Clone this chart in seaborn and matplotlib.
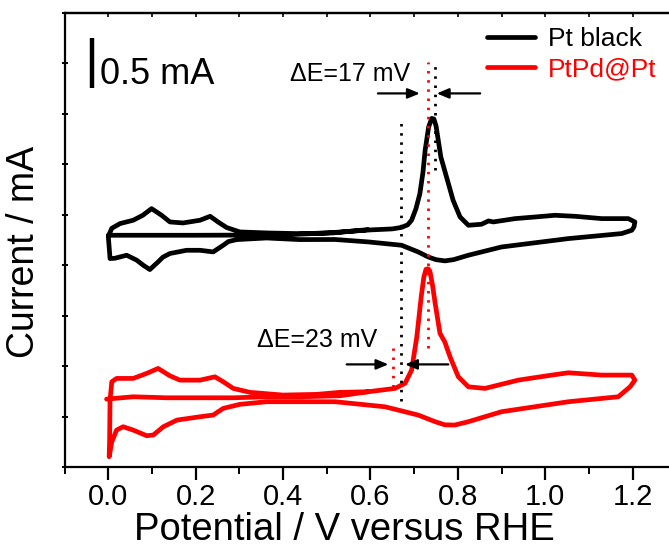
import numpy as np
import pandas as pd
import matplotlib
matplotlib.use("Agg")
import matplotlib.pyplot as plt
import seaborn as sns

# ---------------- data (potential V vs RHE, current offset in mA) ----------------
pt_black_x = [0.0, 0.2, 0.4, 0.5, 0.6, 0.65, 0.671, 0.685, 0.694, 0.704, 0.713, 0.720,
              0.725, 0.733, 0.740, 0.745, 0.750, 0.755, 0.761, 0.774, 0.789, 0.805, 0.824,
              0.854, 0.870, 0.881, 0.931, 0.976, 1.022, 1.068, 1.129, 1.19, 1.205,
              1.203, 1.198, 1.175, 1.053, 0.90, 0.824, 0.790, 0.770, 0.750, 0.732, 0.709,
              0.671, 0.595, 0.519, 0.438, 0.362, 0.294, 0.275, 0.263, 0.24, 0.21, 0.179,
              0.141, 0.125, 0.114, 0.095, 0.080, 0.065, 0.042, 0.015, 0.004, 0.0,
              0.008, 0.027, 0.057, 0.079, 0.099, 0.122, 0.141, 0.171, 0.21, 0.233, 0.251,
              0.271, 0.301, 0.362, 0.438, 0.514, 0.594]
pt_black_y = [2.297, 2.297, 2.30, 2.32, 2.35, 2.36, 2.375, 2.40, 2.446, 2.56, 2.71, 2.92,
              3.139, 3.37, 3.455, 3.45, 3.38, 3.24, 3.072, 2.874, 2.644, 2.478, 2.396,
              2.406, 2.439, 2.429, 2.462, 2.478, 2.495, 2.485, 2.462, 2.462, 2.429,
              2.38, 2.347, 2.314, 2.264, 2.181, 2.099, 2.055, 2.043, 2.055, 2.082, 2.132,
              2.198, 2.231, 2.255, 2.254, 2.27, 2.254, 2.235, 2.198, 2.132, 2.148, 2.148,
              2.116, 2.08, 2.033, 1.957, 2.0, 2.05, 2.099, 2.069, 2.066, 2.287,
              2.366, 2.413, 2.446, 2.495, 2.561, 2.495, 2.429, 2.419, 2.446, 2.485, 2.429,
              2.373, 2.33, 2.32, 2.313, 2.32, 2.353]

ptpd_x = [-0.004, 0.057, 0.134, 0.286, 0.362, 0.439, 0.53, 0.595, 0.656, 0.679, 0.694,
          0.706, 0.716, 0.722, 0.727, 0.732, 0.736, 0.742, 0.748, 0.759, 0.770, 0.782,
          0.801, 0.824, 0.862, 0.938, 1.015, 1.053, 1.129, 1.198, 1.205,
          1.194, 1.167, 1.053, 0.90, 0.824, 0.793, 0.770, 0.748, 0.709, 0.633, 0.519,
          0.439, 0.362, 0.301, 0.263, 0.24, 0.21, 0.157, 0.126, 0.103, 0.088, 0.057,
          0.034, 0.019, 0.008, 0.002,
          0.003, 0.004, 0.008, 0.019, 0.057, 0.088, 0.114, 0.141, 0.164, 0.21, 0.244,
          0.263, 0.286, 0.324, 0.40, 0.477, 0.53, 0.595]
ptpd_y = [0.673, 0.696, 0.686, 0.686, 0.696, 0.696, 0.706, 0.746, 0.779, 0.829, 0.96,
          1.29, 1.686, 1.88, 1.96, 1.965, 1.94, 1.80, 1.62, 1.324, 1.24, 1.092,
          0.894, 0.795, 0.779, 0.861, 0.911, 0.934, 0.911, 0.911, 0.861,
          0.795, 0.696, 0.647, 0.548, 0.449, 0.416, 0.418, 0.449, 0.515, 0.597, 0.647,
          0.647, 0.647, 0.621, 0.581, 0.515, 0.498, 0.465, 0.399, 0.317, 0.31, 0.366,
          0.399, 0.366, 0.25, 0.102,
          0.267, 0.663, 0.845, 0.878, 0.878, 0.928, 0.977, 0.904, 0.861, 0.861, 0.894,
          0.845, 0.779, 0.74, 0.713, 0.72, 0.74, 0.746]

series_names = ["Pt black", "PtPd@Pt"]
series_colors = ["#000000", "#ff0000"]

# peak-potential markers (V) and annotations
peak_black_top = 0.747
peak_red_top = 0.731
onset_black = 0.670
onset_red = 0.652
delta_labels = ["\u0394E=17 mV", "\u0394E=23 mV"]
scale_label = "0.5 mA"
scale_len = 0.5
x_ticks = [0.0, 0.2, 0.4, 0.6, 0.8, 1.0, 1.2]
x_label = "Potential / V versus RHE"
y_label = "Current / mA"

# ---------------- build frame ----------------
frames = []
for name, xs, ys in [(series_names[0], pt_black_x, pt_black_y),
                     (series_names[1], ptpd_x, ptpd_y)]:
    frames.append(pd.DataFrame({"E": xs, "I": ys, "sample": name,
                                "order": np.arange(len(xs))}))
df = pd.concat(frames, ignore_index=True)

sns.set_theme(style="ticks")
plt.rcParams["font.family"] = ["Liberation Sans", "DejaVu Sans"]
plt.rcParams["axes.linewidth"] = 1.6
for k in ["text.color", "axes.labelcolor", "xtick.color", "ytick.color", "axes.edgecolor"]:
    plt.rcParams[k] = "black"

W, H = 669, 549
fig = plt.figure(figsize=(W / 100, H / 100), dpi=100)
ax = fig.add_axes([64.6 / W, 1 - 467 / H, (676.4 - 64.6) / W, (467 - 13) / H])

sns.lineplot(data=df, x="E", y="I", hue="sample", hue_order=series_names,
             palette=dict(zip(series_names, series_colors)), sort=False,
             estimator=None, units="sample", lw=3.4, ax=ax, legend=True)
for ln in ax.lines:
    ln.set_solid_joinstyle("round")
    ln.set_solid_capstyle("round")

ax.set_xlim(-0.1, 1.3)
ax.set_ylim(0, 4.5)

# dotted guide lines
dot = (0, (0.9, 2.4))
ax.plot([onset_black, onset_black], [0.653, 3.455], color="black", lw=2, ls=dot)
ax.plot([peak_black_top, peak_black_top], [2.94, 4.01], color="black", lw=2, ls=dot)
ax.plot([peak_red_top, peak_red_top], [1.178, 4.01], color="red", lw=2, ls=dot)
ax.plot([onset_red, onset_red], [0.79, 1.178], color="red", lw=2, ls=dot)

# arrows
akw = dict(arrowstyle="-|>,head_length=0.6,head_width=0.25", color="black", lw=1.6,
           shrinkA=0, shrinkB=0)
ax.annotate("", xy=(0.713, 3.703), xytext=(0.617, 3.703), arrowprops=akw)
ax.annotate("", xy=(0.7515, 3.703), xytext=(0.851, 3.703), arrowprops=akw)
ax.annotate("", xy=(0.641, 1.017), xytext=(0.5455, 1.017), arrowprops=akw)
ax.annotate("", xy=(0.679, 1.017), xytext=(0.778, 1.017), arrowprops=akw)

ax.text(0.4158, 3.825, delta_labels[0], fontsize=18, ha="left", va="baseline",
        color="black")
ax.text(0.340, 1.19, delta_labels[1], fontsize=18, ha="left", va="baseline",
        color="black")

# scale bar
ax.plot([-0.038, -0.038], [3.752, 3.752 + scale_len], color="black", lw=3.2,
        solid_capstyle="butt")
ax.text(-0.019, 3.80, scale_label, fontsize=26, ha="left", va="baseline", color="black")

# ticks
ax.set_xticks(x_ticks)
ax.set_xticklabels([f"{v:.1f}" for v in x_ticks])
ax.xaxis.set_minor_locator(matplotlib.ticker.MultipleLocator(0.1))
ax.set_yticks(np.arange(0, 4.51, 0.5))
ax.set_yticklabels([])
ax.tick_params(axis="x", which="major", direction="out", length=9, width=1.6,
               labelsize=21, pad=2.5, colors="black")
ax.tick_params(axis="x", which="minor", direction="out", length=5, width=1.4)
ax.tick_params(axis="y", which="major", direction="inout", length=5, width=1.4)
ax.tick_params(axis="y", which="minor", left=False)

top = ax.secondary_xaxis("top")
top.set_xticks(np.arange(-0.1, 1.31, 0.1))
top.set_xticklabels([])
top.tick_params(direction="in", length=3, width=1.2)

for s in ["left", "bottom", "top", "right"]:
    ax.spines[s].set_visible(True)
    ax.spines[s].set_color("black")

ax.set_xlabel(x_label, fontsize=27.5, color="black")
ax.set_ylabel(y_label, fontsize=27, color="black")
ax.xaxis.set_label_coords(0.458, -0.1)
ax.yaxis.set_label_coords(-0.037, 0.4736)
ax.xaxis.label.set_va("top")

leg = ax.legend(loc="upper left", bbox_to_anchor=(486.7 / W, 1 - 27 / H),
                bbox_transform=fig.transFigure, frameon=False, fontsize=19,
                handlelength=1.83, handletextpad=0.5, labelspacing=0.25,
                borderpad=0, borderaxespad=0, labelcolor="linecolor", title=None)
for lh in leg.get_lines():
    lh.set_linewidth(3.4)

fig.savefig("out.png", dpi=100)
